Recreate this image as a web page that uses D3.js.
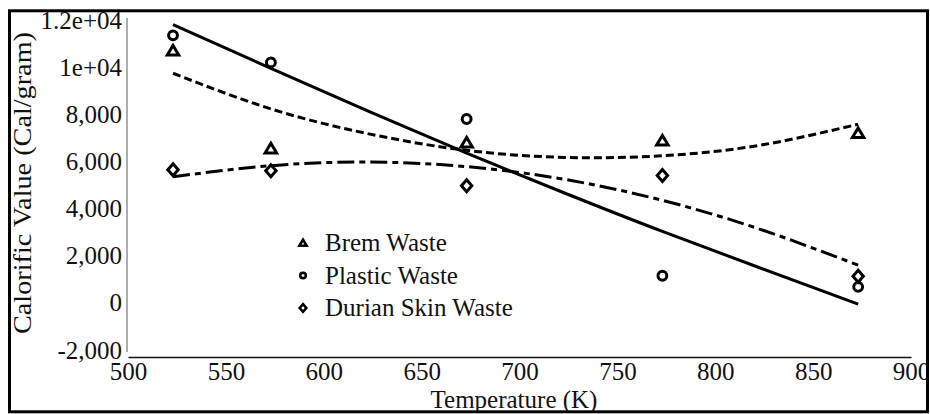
<!DOCTYPE html>
<html>
<head>
<meta charset="utf-8">
<script src="https://cdn.jsdelivr.net/npm/d3@7"></script>
<style>
  body { margin: 0; background: #fff; }
  svg text { font-family: "Liberation Serif", "DejaVu Serif", serif; fill: #111; }
</style>
</head>
<body>
<div id="chart"></div>
<script>
'use strict';

// temperatures (K) the samples were taken at
let temps = [523, 573, 673, 773, 873];

// calorific values (Cal/gram)
let bremValues = [10700, 6550, 6800, 6880, 7200];
let plasticValues = [11350, 10200, 7800, 1150, 680];
let durianValues = [5650, 5600, 4970, 5400, 1130];

// trend lines as drawn in the picture
let trendTemps = [523, 573, 623, 673, 723, 773, 823, 873];
let bremTrend = [9740, 8230, 7170, 6470, 6170, 6240, 6690, 7580];
let plasticTrend = [11800, 9950, 8120, 6350, 4660, 3030, 1480, -50];
let durianTrend = [5350, 5820, 5975, 5780, 5240, 4350, 3120, 1600];

let xTicks = [500, 550, 600, 650, 700, 750, 800, 850, 900];
let yTicks = [-2000, 0, 2000, 4000, 6000, 8000, 10000, 12000];
let yTickLabels = ["-2,000", "0", "2,000", "4,000", "6,000", "8,000", "1e+04", "1.2e+04"];

let legendNames = ["Brem Waste", "Plastic Waste", "Durian Skin Waste"];

function drawChart() {
    let width = 930,
        height = 414;

    let svg = d3.select("#chart").append("svg")
        .attr("width", width)
        .attr("height", height);

    svg.append("defs").append("clipPath")
        .attr("id", "frameClip")
        .append("rect")
        .attr("x", 0).attr("y", 0)
        .attr("width", 927).attr("height", 412);

    let g = svg.append("g").attr("clip-path", "url(#frameClip)");

    let x = d3.scaleLinear().domain([500, 900]).range([128, 911]);
    let y = d3.scaleLinear().domain([-2000, 12000]).range([350, 20]);

    // x axis
    let xAxis = g.append("g")
        .attr("transform", "translate(0,357)")
        .call(d3.axisBottom(x).tickValues(xTicks).tickSize(0).tickSizeOuter(0).tickPadding(5)
            .tickFormat(d3.format("d")));
    xAxis.select(".domain").attr("stroke", "#111").attr("stroke-width", 1.6);
    xAxis.selectAll("text").attr("font-size", 25).attr("fill", "#111");

    // y axis (gray line)
    let yAxis = g.append("g")
        .attr("transform", "translate(127,0)")
        .call(d3.axisLeft(y).tickValues(yTicks).tickSize(0).tickSizeOuter(0).tickPadding(5)
            .tickFormat((d, i) => yTickLabels[i]));
    yAxis.select(".domain").attr("stroke", "#8a8a8a").attr("stroke-width", 1.4)
        .attr("d", "M0,18V352");
    yAxis.selectAll("text").attr("font-size", 25).attr("fill", "#111");

    g.append("text")
        .attr("x", 514)
        .attr("y", 408)
        .attr("text-anchor", "middle")
        .attr("font-size", 25)
        .text("Temperature (K)");

    g.append("text")
        .attr("transform", "translate(31,183) rotate(-90)")
        .attr("text-anchor", "middle")
        .attr("font-size", 25)
        .attr("textLength", 302)
        .attr("lengthAdjust", "spacingAndGlyphs")
        .text("Calorific Value (Cal/gram)");

    // trend lines
    let trendLine = d3.line()
        .x(d => x(d[0]))
        .y(d => y(d[1]))
        .curve(d3.curveNatural);

    let trends = [
        { vals: plasticTrend, dash: null },
        { vals: bremTrend, dash: "8,4" },
        { vals: durianTrend, dash: "17,5,6,5" }
    ];
    trends.forEach(t => {
        g.append("path")
            .datum(trendTemps.map((d, i) => [d, t.vals[i]]))
            .attr("d", trendLine)
            .attr("fill", "none")
            .attr("stroke", "#000")
            .attr("stroke-width", 3)
            .attr("stroke-dasharray", t.dash);
    });

    // marker shapes
    function triangle(s) {
        return "M0," + (-s) + "L" + (s * 1.1) + "," + (s * 0.85) + "L" + (-s * 1.1) + "," + (s * 0.85) + "Z";
    }
    function diamond(s) {
        return "M0," + (-s * 1.15) + "L" + s + ",0L0," + (s * 1.15) + "L" + (-s) + ",0Z";
    }

    let series = [
        { vals: bremValues, kind: "tri" },
        { vals: plasticValues, kind: "circ" },
        { vals: durianValues, kind: "dia" }
    ];

    function addMarker(sel, kind, size) {
        if (kind === "circ") {
            return sel.append("circle").attr("r", size * 0.85);
        }
        return sel.append("path").attr("d", kind === "tri" ? triangle(size) : diamond(size));
    }

    series.forEach(s => {
        s.vals.forEach((v, i) => {
            let m = g.append("g")
                .attr("transform", "translate(" + x(temps[i]) + "," + y(v) + ")");
            addMarker(m, s.kind, 5.2)
                .attr("fill", "none")
                .attr("stroke", "#000")
                .attr("stroke-width", 3);
        });
    });

    // legend
    let legend = g.append("g").attr("transform", "translate(303,243)");
    legendNames.forEach((name, i) => {
        let row = legend.append("g").attr("transform", "translate(0," + (i * 32.5) + ")");
        addMarker(row, series[i].kind, 3.3)
            .attr("fill", "none")
            .attr("stroke", "#000")
            .attr("stroke-width", 2.6);
        row.append("text")
            .attr("x", 22)
            .attr("y", 8)
            .attr("font-size", 25)
            .text(name);
    });

    // outer frame
    svg.append("rect")
        .attr("x", 9.5)
        .attr("y", 10.8)
        .attr("width", 918)
        .attr("height", 401)
        .attr("fill", "none")
        .attr("stroke", "#000")
        .attr("stroke-width", 3);
}

drawChart();
</script>
</body>
</html>
